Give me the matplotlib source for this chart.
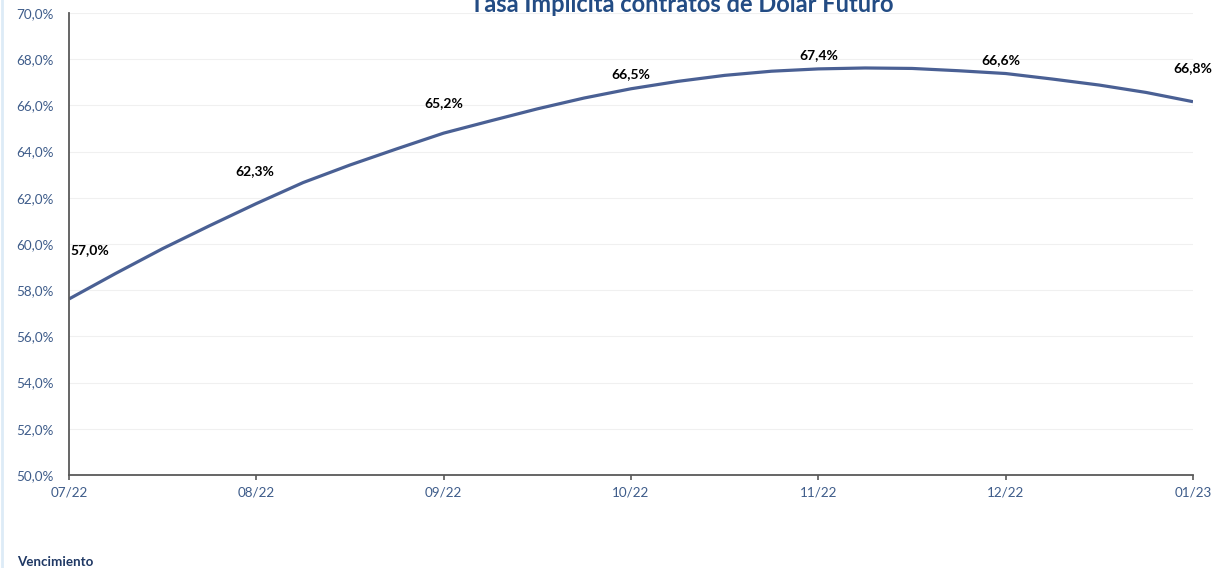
import numpy as np
import matplotlib
matplotlib.use("Agg")
import matplotlib.pyplot as plt
from matplotlib.ticker import FuncFormatter, MultipleLocator
from matplotlib.lines import Line2D

plt.rcParams['font.family'] = ['Lato', 'DejaVu Sans']

# Month labels on the x axis (categorical positions 0..6)
months = ["07/22", "08/22", "09/22", "10/22", "11/22", "12/22", "01/23"]

# Curve every quarter of a month (in %)
curve_x = [0.0, 0.25, 0.5, 0.75, 1.0, 1.25, 1.5, 1.75, 2.0, 2.25, 2.5, 2.75,
           3.0, 3.25, 3.5, 3.75, 4.0, 4.25, 4.5, 4.75, 5.0, 5.25, 5.5, 5.75, 6.0]
curve_y = [57.62, 58.73, 59.80, 60.79, 61.75, 62.66, 63.42, 64.12, 64.80, 65.33,
           65.85, 66.32, 66.72, 67.04, 67.30, 67.48, 67.58, 67.62, 67.60, 67.50,
           67.38, 67.14, 66.88, 66.56, 66.16]

# Data labels shown on each month
label_values = [57.0, 62.3, 65.2, 66.5, 67.4, 66.6, 66.8]
# where each label sits, relative to its value (pixels)
label_offsets = [(21, 63), (-2, 20), (0, 21), (0, 20), (0, 18), (-5, 31), (0, 19)]

line_color = '#4A6094'
tick_color = '#3E5C8A'
axis_color = '#595959'

fig = plt.figure(figsize=(12.22, 5.68), dpi=100)
ax = fig.add_axes([69/1222, 1-475/568, (1193-69)/1222, (475-13)/568])

ax.plot(curve_x, curve_y, color=line_color, lw=2.3, solid_capstyle='butt')

for i, (v, off) in enumerate(zip(label_values, label_offsets)):
    ax.annotate(f"{v:.1f}%".replace('.', ','), (i, v), xytext=off,
                textcoords='offset pixels', ha='center', va='center',
                fontsize=10, fontweight='bold', color='black', annotation_clip=False)

ax.set_xlim(0, 6)
ax.set_ylim(50, 70)
ax.set_xticks(range(len(months)))
ax.set_xticklabels(months)
ax.yaxis.set_major_locator(MultipleLocator(2))
ax.yaxis.set_major_formatter(FuncFormatter(lambda v, p: f"{v:.1f}%".replace('.', ',')))

ax.grid(axis='y', color='#F0F0F0', lw=0.8)
ax.set_axisbelow(True)
for s in ['top', 'right']:
    ax.spines[s].set_visible(False)
for s in ['left', 'bottom']:
    ax.spines[s].set_color(axis_color)
    ax.spines[s].set_linewidth(1.3)

ax.tick_params(axis='y', length=0, pad=11, labelsize=9.7, labelcolor=tick_color)
ax.tick_params(axis='x', length=3.5, width=1.2, color=axis_color, pad=4.5,
               labelsize=9.7, labelcolor=tick_color)

fig.text(682/1222, 1-12.5/568, "Tasa Implícita contratos de Dólar Futuro",
         ha='center', va='baseline', fontsize=17, fontweight='bold', color='#234C84')
fig.text(17/1222, 1-562/568, "Vencimiento", ha='left', va='center',
         fontsize=9.6, fontweight='bold', color='#1F3864')

# light border on the left edge
fig.add_artist(Line2D([1.5/1222, 1.5/1222], [0, 1], color='#DDEBF7', lw=2))

fig.savefig('out.png', dpi=100)
